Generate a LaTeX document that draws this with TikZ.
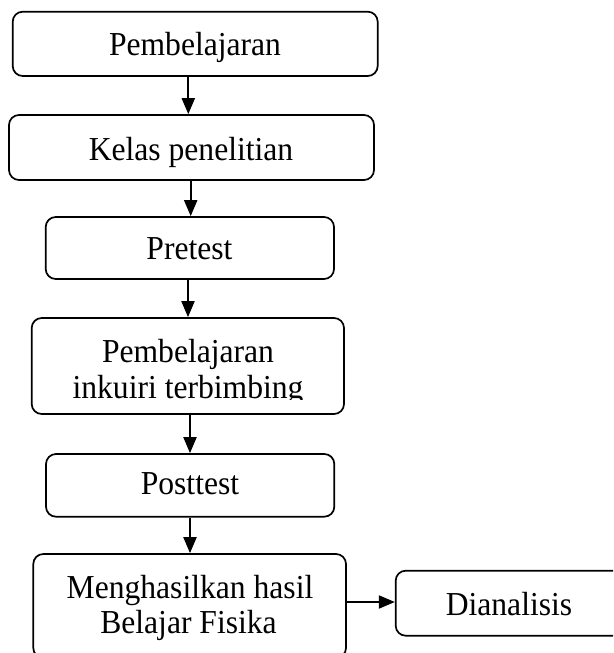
\documentclass[tikz,border=0pt]{standalone}
\usepackage{fontspec}
\setmainfont{Liberation Serif}
\usetikzlibrary{arrows.meta}
\newcommand{\vstretch}[1]{\scalebox{1}[1.06]{#1}}
\begin{document}
\begin{tikzpicture}[x=1pt,y=-1pt,
  box/.style={draw, line width=1.7pt, rounded corners=10pt, inner sep=0pt},
  lbl/.style={anchor=base, inner sep=0pt, font=\fontsize{31.6}{35}\selectfont},
  conn/.style={line width=2pt, -{Triangle[width=13pt,length=16pt]}}]
\useasboundingbox (0,0) rectangle (613,653);
\clip (0,0) rectangle (613,653);
% boxes
\node[box, minimum width=365pt, minimum height=64.3pt] (b1) at (195.2,43.85) {};
\node[box, minimum width=365pt, minimum height=65pt] (b2) at (191.5,147.5) {};
\node[box, minimum width=288.3pt, minimum height=62pt] (b3) at (189.85,248) {};
\node[box, minimum width=312.3pt, minimum height=96pt] (b4) at (187.85,366) {};
\node[box, minimum width=288.3pt, minimum height=62.7pt] (b5) at (190.15,485.35) {};
\node[box, minimum width=312.7pt, minimum height=104pt] (b6) at (189.65,606) {};
\node[box, minimum width=227pt, minimum height=65pt] (b7) at (509.2,603.2) {};
% texts
\node[lbl] (t1) at (195,55.7) {\vstretch{Pembelajaran}};
\node[lbl] (t2) at (191,160.5) {\vstretch{Kelas penelitian}};
\node[lbl] (t3) at (189.5,259.3) {\vstretch{Pretest}};
\node[lbl] (t4a) at (188,362.8) {\vstretch{Pembelajaran}};
\begin{scope}
  \clip (0,0) rectangle (613,399);
  \node[lbl] (t4b) at (188,398.5) {\vstretch{inkuiri terbimbing}};
\end{scope}
\node[lbl] (t5) at (190,494.3) {\vstretch{Posttest}};
\node[lbl] (t6a) at (190,598) {\vstretch{Menghasilkan hasil}};
\node[lbl] (t6b) at (188.5,633) {\vstretch{Belajar Fisika}};
\node[lbl] (t7) at (509,615) {\vstretch{Dianalisis}};
% connectors
\draw[conn] (188.3,0 |- b1.south) -- (188.3,0 |- b2.north);
\draw[conn] (190.7,0 |- b2.south) -- (190.7,0 |- b3.north);
\draw[conn] (188,0 |- b3.south) -- (188,0 |- b4.north);
\draw[conn] (190,0 |- b4.south) -- (190,0 |- b5.north);
\draw[conn] (190,0 |- b5.south) -- (190,0 |- b6.north);
\draw[conn] (b6.east |- 0,602) -- (b7.west |- 0,602);
\end{tikzpicture}
\end{document}
